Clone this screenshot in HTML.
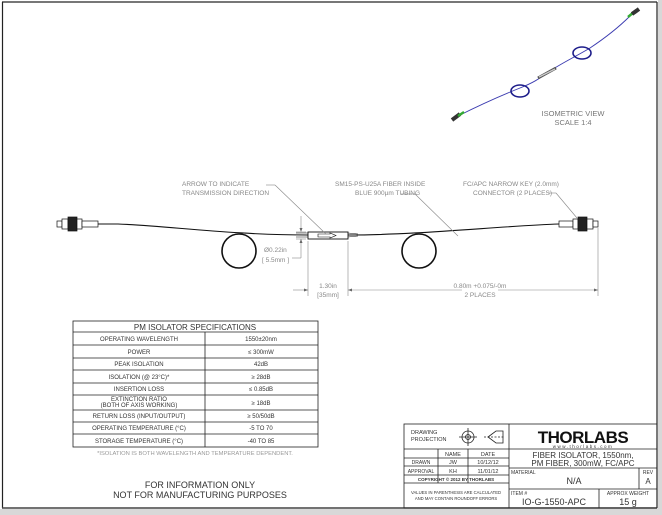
<!DOCTYPE html>
<html><head><meta charset="utf-8"><style>
html,body{margin:0;padding:0;background:#fff}
svg{display:block}
text{font-family:"Liberation Sans",sans-serif}
</style></head><body>
<svg width="662" height="515" viewBox="0 0 662 515" xmlns="http://www.w3.org/2000/svg">
<rect x="0" y="0" width="662" height="515" fill="#fff"/>
<rect x="0" y="509" width="662" height="6" fill="#d8d8d8"/>
<rect x="658" y="0" width="4" height="515" fill="#d8d8d8"/>
<line x1="2" y1="2" x2="657" y2="2" stroke="#777" stroke-width="2"/>
<line x1="2.5" y1="2" x2="2.5" y2="508" stroke="#222" stroke-width="1.2"/>
<line x1="657" y1="2" x2="657" y2="508" stroke="#222" stroke-width="1.2"/>
<line x1="2" y1="508" x2="657" y2="508" stroke="#444" stroke-width="1.5"/>

<g>
<path d="M458,116 C480,105 500,96 520,88 C535,82 540,78 547,73 C560,64 575,57 590,48 C605,38 618,28 630,16" fill="none" stroke="#3b3bb0" stroke-width="0.9"/>
<ellipse cx="520" cy="91" rx="9" ry="6" fill="none" stroke="#1d1d8a" stroke-width="1.6"/>
<ellipse cx="582" cy="53" rx="9" ry="6" fill="none" stroke="#1d1d8a" stroke-width="1.6"/>
<path d="M538,78 L556,68" stroke="#555" stroke-width="3"/>
<path d="M539,77 L555,69" stroke="#ccc" stroke-width="1.3"/>
<path d="M452,120 L460,114" stroke="#333" stroke-width="4"/>
<path d="M458,116 L464,112" stroke="#3a3" stroke-width="2.5"/>
<path d="M628,17 L634,12" stroke="#3a3" stroke-width="2.5"/>
<path d="M632,14 L639,9" stroke="#333" stroke-width="4"/>
<text x="573" y="116" font-size="7.5" fill="#777" text-anchor="middle">ISOMETRIC VIEW</text>
<text x="573" y="125" font-size="7.5" fill="#777" text-anchor="middle">SCALE 1:4</text>
</g>

<g fill="none" stroke="#111">
<path d="M98,224 L118,224 C170,226 230,235 308,235" stroke-width="1.1"/>
<path d="M348,235 C420,235 500,226 559,224" stroke-width="1.1"/>
<circle cx="239" cy="251" r="17" stroke-width="1.6"/>
<circle cx="419" cy="251" r="17" stroke-width="1.6"/>
<path d="M296,233 L308,233 M296,237 L308,237" stroke-width="0.6"/>
<path d="M348,233 L358,234 M348,237 L358,236" stroke-width="0.6"/>
<rect x="308" y="232" width="40" height="7" stroke-width="0.9" fill="#fff"/>
<path d="M318,234 L330,234 L330,233 L336,235.5 L330,238 L330,237 L318,237 Z" stroke-width="0.6"/>
</g>
<g stroke="#111" stroke-width="0.7" fill="#fff">
<rect x="57" y="221" width="5" height="6"/>
<rect x="62" y="219" width="6" height="10"/>
<rect x="68" y="217" width="9" height="14" fill="#222"/>
<rect x="77" y="219" width="5" height="10"/>
<rect x="82" y="221" width="16" height="6"/>
</g>
<g stroke="#111" stroke-width="0.7" fill="#fff">
<rect x="559" y="221" width="14" height="6"/>
<rect x="573" y="219" width="5" height="10"/>
<rect x="578" y="217" width="9" height="14" fill="#222"/>
<rect x="587" y="219" width="6" height="10"/>
<rect x="593" y="221" width="5" height="6"/>
</g>

<g stroke="#888" stroke-width="0.6" fill="none">
<line x1="301" y1="216" x2="301" y2="231"/>
<line x1="301" y1="239" x2="301" y2="258"/>
<line x1="296" y1="232" x2="306" y2="232"/>
<line x1="296" y1="239" x2="306" y2="239"/>
<line x1="292" y1="258" x2="301" y2="258"/>
<line x1="308" y1="241" x2="308" y2="296"/>
<line x1="348" y1="241" x2="348" y2="296"/>
<line x1="598" y1="228" x2="598" y2="296"/>
<line x1="293" y1="290" x2="308" y2="290"/>
<line x1="348" y1="290" x2="462" y2="290"/>
<line x1="498" y1="290" x2="598" y2="290"/>
<line x1="266" y1="185" x2="275" y2="185"/>
<line x1="275" y1="185" x2="326" y2="234"/>
<line x1="401" y1="194" x2="415" y2="194"/>
<line x1="415" y1="194" x2="458" y2="236"/>
<line x1="548" y1="193" x2="556" y2="193"/>
<line x1="556" y1="193" x2="577" y2="218"/>
</g>
<g fill="#666">
<path d="M301,232 l-1.5,-4 l3,0 z"/>
<path d="M301,239 l-1.5,4 l3,0 z"/>
<path d="M308,290 l-4,-1.5 l0,3 z"/>
<path d="M348,290 l4,-1.5 l0,3 z"/>
<path d="M598,290 l-4,-1.5 l0,3 z"/>
</g>
<g font-size="6.5" fill="#888">
<text x="264" y="252">Ø0.22in</text>
<text x="262" y="262">[ 5.5mm ]</text>
<text x="328" y="288" text-anchor="middle">1.30in</text>
<text x="328" y="297" text-anchor="middle">[35mm]</text>
<text x="480" y="288" text-anchor="middle">0.80m +0.075/-0m</text>
<text x="480" y="297" text-anchor="middle">2 PLACES</text>
<text x="182" y="186">ARROW TO INDICATE</text>
<text x="182" y="195">TRANSMISSION DIRECTION</text>
<text x="335" y="186">SM15-PS-U25A FIBER INSIDE</text>
<text x="355" y="195">BLUE 900µm TUBING</text>
<text x="463" y="186">FC/APC NARROW KEY (2.0mm)</text>
<text x="473" y="195">CONNECTOR (2 PLACES)</text>
</g>

<g stroke="#222" stroke-width="0.8" fill="none">
<rect x="73" y="321" width="245" height="126"/>
<line x1="73" y1="332" x2="318" y2="332"/>
<line x1="73" y1="345" x2="318" y2="345"/>
<line x1="73" y1="358" x2="318" y2="358"/>
<line x1="73" y1="370" x2="318" y2="370"/>
<line x1="73" y1="383" x2="318" y2="383"/>
<line x1="73" y1="395" x2="318" y2="395"/>
<line x1="73" y1="410" x2="318" y2="410"/>
<line x1="73" y1="422" x2="318" y2="422"/>
<line x1="73" y1="434" x2="318" y2="434"/>
<line x1="205" y1="332" x2="205" y2="447"/>
</g>
<g font-size="6" fill="#333" text-anchor="middle">
<text x="195" y="330" font-size="8">PM ISOLATOR SPECIFICATIONS</text>
<text x="139" y="341">OPERATING WAVELENGTH</text><text x="261" y="341">1550±20nm</text>
<text x="139" y="354">POWER</text><text x="261" y="354">≤ 300mW</text>
<text x="139" y="366">PEAK ISOLATION</text><text x="261" y="366">42dB</text>
<text x="139" y="379">ISOLATION (@ 23°C)*</text><text x="261" y="379">≥ 28dB</text>
<text x="139" y="391">INSERTION LOSS</text><text x="261" y="391">≤ 0.85dB</text>
<text x="139" y="401">EXTINCTION RATIO</text><text x="139" y="407">(BOTH OF AXIS WORKING)</text><text x="261" y="405">≥ 18dB</text>
<text x="139" y="418">RETURN LOSS (INPUT/OUTPUT)</text><text x="261" y="418">≥ 50/50dB</text>
<text x="139" y="430">OPERATING TEMPERATURE (°C)</text><text x="261" y="430">-5 TO 70</text>
<text x="139" y="443">STORAGE TEMPERATURE (°C)</text><text x="261" y="443">-40 TO 85</text>
<text x="195" y="455" fill="#999" font-size="5.8">*ISOLATION IS BOTH WAVELENGTH AND TEMPERATURE DEPENDENT.</text>
</g>

<text x="200" y="488" font-size="9" fill="#333" text-anchor="middle">FOR INFORMATION ONLY</text>
<text x="200" y="498" font-size="9" fill="#333" text-anchor="middle">NOT FOR MANUFACTURING PURPOSES</text>

<g stroke="#222" stroke-width="0.8" fill="none">
<rect x="404" y="424" width="253" height="84"/>
<line x1="509" y1="424" x2="509" y2="508"/>
<line x1="404" y1="449" x2="657" y2="449"/>
<line x1="404" y1="458" x2="509" y2="458"/>
<line x1="404" y1="466" x2="509" y2="466"/>
<line x1="404" y1="475" x2="509" y2="475"/>
<line x1="404" y1="483" x2="509" y2="483"/>
<line x1="438" y1="449" x2="438" y2="483"/>
<line x1="468" y1="449" x2="468" y2="483"/>
<line x1="509" y1="468" x2="657" y2="468"/>
<line x1="509" y1="489" x2="657" y2="489"/>
<line x1="639" y1="468" x2="639" y2="489"/>
<line x1="599" y1="489" x2="599" y2="508"/>
<circle cx="468" cy="437" r="6"/>
<circle cx="468" cy="437" r="2.5"/>
<line x1="459" y1="437" x2="477" y2="437"/>
<line x1="468" y1="428" x2="468" y2="446"/>
<path d="M488,437 L496,431 L503,431 L503,443 L496,443 Z"/>
<line x1="484" y1="437" x2="505" y2="437" stroke-dasharray="2,1.5"/>
</g>
<g fill="#333" font-size="5.5">
<text x="411" y="434">DRAWING</text>
<text x="411" y="441">PROJECTION</text>
<text x="453" y="456" text-anchor="middle">NAME</text>
<text x="488" y="456" text-anchor="middle">DATE</text>
<text x="421" y="464" text-anchor="middle" font-size="5">DRAWN</text>
<text x="453" y="464" text-anchor="middle">JW</text>
<text x="488" y="464" text-anchor="middle">10/12/12</text>
<text x="421" y="473" text-anchor="middle" font-size="5">APPROVAL</text>
<text x="453" y="473" text-anchor="middle">KH</text>
<text x="488" y="473" text-anchor="middle">11/01/12</text>
<text x="456" y="481" text-anchor="middle" font-size="4.5" font-weight="bold">COPYRIGHT © 2012 BY THORLABS</text>
<text x="456" y="494" text-anchor="middle" font-size="4.2">VALUES IN PARENTHESIS ARE CALCULATED</text>
<text x="456" y="500" text-anchor="middle" font-size="4.2">AND MAY CONTAIN ROUNDOFF ERRORS</text>
<text x="583" y="443" text-anchor="middle" font-size="17" font-weight="bold" fill="#111" letter-spacing="-0.5">THORLABS</text>
<text x="583" y="448" text-anchor="middle" font-size="4.5" letter-spacing="1.5">www.thorlabs.com</text>
<text x="583" y="458" text-anchor="middle" font-size="8">FIBER ISOLATOR, 1550nm,</text>
<text x="583" y="466" text-anchor="middle" font-size="8">PM FIBER, 300mW, FC/APC</text>
<text x="511" y="474" font-size="5">MATERIAL</text>
<text x="574" y="484" text-anchor="middle" font-size="9">N/A</text>
<text x="648" y="474" text-anchor="middle" font-size="5">REV</text>
<text x="648" y="484" text-anchor="middle" font-size="8">A</text>
<text x="511" y="495" font-size="5">ITEM #</text>
<text x="554" y="505" text-anchor="middle" font-size="9">IO-G-1550-APC</text>
<text x="628" y="495" text-anchor="middle" font-size="5">APPROX WEIGHT</text>
<text x="628" y="505" text-anchor="middle" font-size="9">15 g</text>
</g>
</svg>
</body></html>
